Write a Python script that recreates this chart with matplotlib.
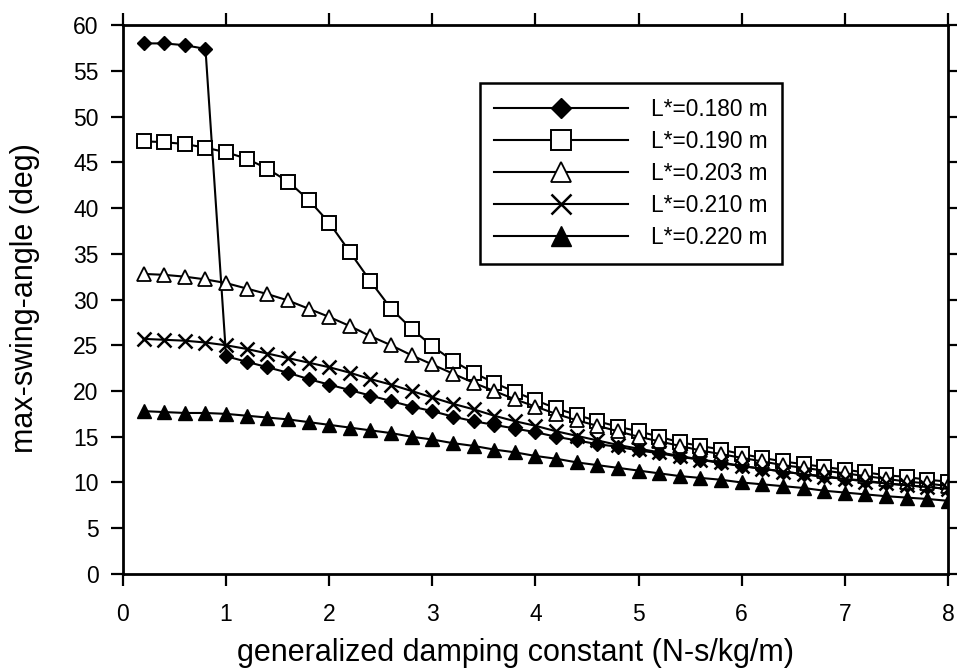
import numpy as np
import matplotlib
matplotlib.use("Agg")
import matplotlib.pyplot as plt

plt.rcParams['font.family'] = ['Liberation Sans', 'DejaVu Sans']

damping = [0.2, 0.4, 0.6, 0.8, 1.0, 1.2, 1.4, 1.6, 1.8, 2.0,
           2.2, 2.4, 2.6, 2.8, 3.0, 3.2, 3.4, 3.6, 3.8, 4.0,
           4.2, 4.4, 4.6, 4.8, 5.0, 5.2, 5.4, 5.6, 5.8, 6.0,
           6.2, 6.4, 6.6, 6.8, 7.0, 7.2, 7.4, 7.6, 7.8, 8.0]

angle_180 = [58.0, 58.0, 57.8, 57.4, 23.8, 23.2, 22.6, 22.0, 21.3, 20.7,
             20.1, 19.5, 18.9, 18.3, 17.8, 17.2, 16.7, 16.3, 15.9, 15.5,
             15.0, 14.6, 14.2, 13.9, 13.5, 13.2, 12.8, 12.5, 12.1, 11.8,
             11.5, 11.2, 10.9, 10.7, 10.4, 10.2, 9.9, 9.7, 9.5, 9.3]
angle_190 = [47.3, 47.2, 47.0, 46.6, 46.1, 45.4, 44.3, 42.9, 40.9, 38.4,
             35.2, 32.0, 29.0, 26.8, 24.9, 23.3, 22.0, 20.9, 19.9, 19.0,
             18.1, 17.4, 16.7, 16.1, 15.6, 15.0, 14.4, 14.0, 13.6, 13.1,
             12.7, 12.3, 12.0, 11.7, 11.4, 11.1, 10.8, 10.6, 10.3, 10.1]
angle_203 = [32.8, 32.7, 32.5, 32.2, 31.8, 31.2, 30.6, 29.9, 29.0, 28.1,
             27.1, 26.0, 25.0, 23.9, 22.9, 21.9, 20.9, 20.0, 19.1, 18.3,
             17.5, 16.8, 16.2, 15.6, 15.0, 14.5, 14.0, 13.5, 13.1, 12.7,
             12.3, 11.9, 11.6, 11.3, 11.0, 10.7, 10.4, 10.1, 9.9, 9.6]
angle_210 = [25.7, 25.6, 25.5, 25.3, 25.0, 24.6, 24.1, 23.6, 23.1, 22.6,
             22.0, 21.3, 20.7, 20.0, 19.3, 18.6, 18.0, 17.3, 16.7, 16.2,
             15.6, 15.1, 14.6, 14.1, 13.7, 13.3, 12.9, 12.5, 12.2, 11.8,
             11.5, 11.2, 10.9, 10.6, 10.4, 10.1, 9.9, 9.7, 9.5, 9.3]
angle_220 = [17.8, 17.7, 17.6, 17.6, 17.5, 17.3, 17.1, 16.9, 16.6, 16.3,
             16.0, 15.7, 15.4, 15.0, 14.7, 14.3, 14.0, 13.6, 13.3, 12.9,
             12.6, 12.2, 11.9, 11.6, 11.3, 11.0, 10.7, 10.5, 10.3, 10.0,
             9.8, 9.6, 9.4, 9.1, 8.9, 8.7, 8.5, 8.35, 8.2, 8.0]

labels = ['L*=0.180 m', 'L*=0.190 m', 'L*=0.203 m', 'L*=0.210 m', 'L*=0.220 m']

fig = plt.figure(figsize=(9.57, 6.71), dpi=100)
ax = fig.add_axes([0.1285, 0.1446, 0.862, 0.818])

lw = 1.5
ax.plot(damping, angle_180, color='black', lw=lw, marker='D', ms=7.5,
        mfc='black', mec='black', label=labels[0])
ax.plot(damping, angle_190, color='black', lw=lw, marker='s', ms=10.5,
        mfc='white', mec='black', mew=1.4, label=labels[1])
ax.plot(damping, angle_203, color='black', lw=lw, marker='^', ms=10,
        mfc='white', mec='black', mew=1.3, label=labels[2])
ax.plot(damping, angle_210, color='black', lw=lw, marker='x', ms=10,
        mec='black', mew=1.8, label=labels[3])
ax.plot(damping, angle_220, color='black', lw=lw, marker='^', ms=10,
        mfc='black', mec='black', label=labels[4])

ax.set_xlim(0, 8)
ax.set_ylim(0, 60)
ax.set_xticks(range(0, 9))
ax.set_yticks(range(0, 61, 5))

for s in ax.spines.values():
    s.set_linewidth(2)

ax.tick_params(direction='out', length=8.5, width=1.6, labelsize=16.5,
               top=True, right=True, labelright=False, labeltop=False)
ax.tick_params(axis='y', pad=9)
ax.tick_params(axis='x', pad=12.5)

ax.set_xlabel('generalized damping constant (N-s/kg/m)', fontsize=22)
ax.set_ylabel('max-swing-angle (deg)', fontsize=22)
ax.xaxis.set_label_coords(0.476, -0.117)
ax.yaxis.set_label_coords(-0.1, 0.502)

leg = ax.legend(loc='upper left', bbox_to_anchor=(0.4325, 0.8944),
                borderaxespad=0, fontsize=16.3, handlelength=5.9,
                handletextpad=1.0, borderpad=0.65, labelspacing=0.4,
                markerscale=1.4, fancybox=False, framealpha=1,
                edgecolor='black')
leg.get_frame().set_linewidth(1.8)

fig.savefig('out.png', dpi=100)
